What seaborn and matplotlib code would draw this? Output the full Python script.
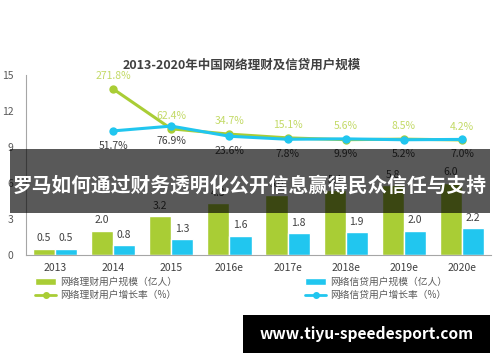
import numpy as np
import pandas as pd
import matplotlib
matplotlib.use("Agg")
import matplotlib.pyplot as plt
import seaborn as sns
from matplotlib.patches import Rectangle, Patch
from matplotlib.lines import Line2D

years = ["2013", "2014", "2015", "2016e", "2017e", "2018e", "2019e", "2020e"]
licai_users = [0.5, 2.0, 3.2, 4.3, 5.0, 5.4, 5.8, 6.0]
xindai_users = [0.5, 0.8, 1.3, 1.6, 1.8, 1.9, 2.0, 2.2]
licai_growth = [None, 271.8, 62.4, 34.7, 15.1, 5.6, 8.5, 4.2]
xindai_growth = [None, 51.7, 76.9, 23.6, 7.8, 9.9, 5.2, 7.0]

name_licai = "网络理财用户规模（亿人）"
name_xindai = "网络信贷用户规模（亿人）"
name_licai_g = "网络理财用户增长率（%）"
name_xindai_g = "网络信贷用户增长率（%）"

green = "#a9cd35"
blue = "#21c6ef"
label_green = "#c3da66"
text_gray = "#404040"

sns.set_style("white")
plt.rcParams["font.family"] = ["Noto Sans CJK SC", "DejaVu Sans"]

bars = pd.DataFrame({
    "year": years * 2,
    "value": licai_users + xindai_users,
    "series": [name_licai] * len(years) + [name_xindai] * len(years),
})

fig = plt.figure(figsize=(5, 3.62), dpi=100)
ax = fig.add_axes([0.052, 0.296, 0.93, 0.497])

sns.barplot(data=bars, x="year", y="value", hue="series",
            palette=[green, blue], width=0.76, saturation=1,
            legend=False, ax=ax)
for cont in ax.containers:
    ax.bar_label(cont, fmt="%.1f", padding=4, fontsize=7.5, color=text_gray)

ax.set_xlim(-0.5, 7.5)
ax.set_ylim(0, 15)
ax.set_yticks([0, 3, 6, 9, 12, 15])
ax.set_xlabel("")
ax.set_ylabel("")
ax.tick_params(axis="y", length=0, pad=9, labelsize=7.5, labelcolor="#595959")
ax.tick_params(axis="x", length=0, pad=6, labelsize=7.5, labelcolor=text_gray)
for s in ["top", "right"]:
    ax.spines[s].set_visible(False)
ax.spines["left"].set_color("#a6a6a6")
ax.spines["bottom"].set_color("#a6a6a6")

# growth rates on a hidden second axis
ax2 = ax.twinx()
xs = np.arange(len(years))
lines = pd.DataFrame({"x": xs[1:], "licai": licai_growth[1:], "xindai": xindai_growth[1:]})
sns.lineplot(data=lines, x="x", y="licai", color=green, linewidth=2.2,
             marker="o", markersize=6, markeredgewidth=0, ax=ax2)
sns.lineplot(data=lines, x="x", y="xindai", color=blue, linewidth=2.2,
             marker="o", markersize=6, markeredgewidth=0, ax=ax2)
ax2.set_ylim(-599, 345.5)
ax2.set_xlim(-0.5, 7.5)
ax2.axis("off")

for x, g, d in zip(lines["x"], lines["licai"], lines["xindai"]):
    ax2.annotate(f"{g:.1f}%", (x, g), xytext=(0, 6), textcoords="offset points",
                 ha="center", va="bottom", fontsize=7.5, color=label_green)
    ax2.annotate(f"{d:.1f}%", (x, d), xytext=(0, -7), textcoords="offset points",
                 ha="center", va="top", fontsize=7.5, color=text_gray)

fig.text(0.484, 0.82, "2013-2020年中国网络理财及信贷用户规模", ha="center",
         va="center", fontsize=9, fontweight="bold", color=text_gray)

h1 = [Patch(facecolor=green), Line2D([], [], color=green, lw=2, marker="o", markersize=4)]
h2 = [Patch(facecolor=blue), Line2D([], [], color=blue, lw=2, marker="o", markersize=4)]
for handles, names, xpos in [(h1, [name_licai, name_licai_g], 0.07),
                             (h2, [name_xindai, name_xindai_g], 0.61)]:
    fig.legend(handles, names, loc="upper left", bbox_to_anchor=(xpos, 0.235),
               frameon=False, fontsize=7, labelcolor="#595959",
               handlelength=2.2, handletextpad=0.4, labelspacing=0.35,
               borderaxespad=0, borderpad=0)

fig.patches.append(Rectangle((0.02, 0.412), 0.96, 0.176, transform=fig.transFigure,
                             facecolor="black", alpha=0.65, edgecolor="none", zorder=5))
fig.text(0.5, 0.488, "罗马如何通过财务透明化公开信息赢得民众信任与支持",
         ha="center", va="center", fontsize=14.2, fontweight="bold",
         color="white", zorder=6)

fig.patches.append(Rectangle((0.486, 0.025), 0.494, 0.105, transform=fig.transFigure,
                             facecolor="black", edgecolor="none", zorder=5))
fig.text(0.733, 0.077, "www.tiyu-speedesport.com", ha="center", va="center",
         fontsize=11.2, fontweight="bold", color="white", zorder=6)

fig.savefig("out.png", dpi=100)
